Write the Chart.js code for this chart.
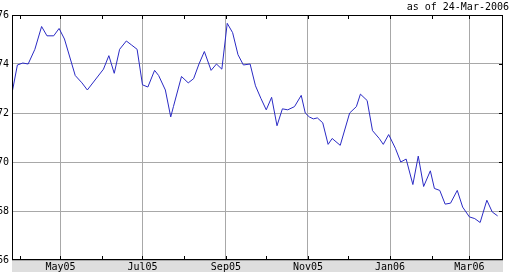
<!DOCTYPE html>
<html><head><meta charset="utf-8">
<script src="https://cdn.jsdelivr.net/npm/chart.js@4.4.0/dist/chart.umd.min.js"></script>
<style>html,body{margin:0;padding:0;background:#fff;}canvas{display:block;}</style>
</head><body>
<canvas id="c" width="509" height="272"></canvas>
<script>
// Day numbers counted from 1-Jan-2005 (day 1 = 1 Jan 2005)
const days = [84,88,92,96,101,106,110,115,119,123,131,136,140,
  152,156,160,164,169,173,177,181,185,190,193,198,202,
  204,210,215,219,223,227,232,236,240,244,248,252,256,261,265,269,
  273,277,281,285,289,294,299,302,305,308,311,315,319,322,328,
  335,340,343,348,352,357,360,364,369,373,377,382,386,
  390,395,398,402,406,410,415,419,424,428,432,437,441,445];
const prices = [72.81,73.96,74.04,74.0,74.6,75.53,75.15,75.15,75.45,75.02,73.53,73.23,72.94,
  73.79,74.34,73.62,74.6,74.94,74.77,74.6,73.15,73.06,73.74,73.53,72.94,71.84,
  72.26,73.49,73.23,73.4,74.0,74.51,73.74,74.0,73.79,75.66,75.28,74.38,73.96,74.0,73.11,72.6,
  72.13,72.64,71.48,72.17,72.13,72.26,72.72,72.0,71.84,71.76,71.8,71.6,70.72,70.96,70.68,
  72.0,72.26,72.77,72.51,71.28,70.96,70.72,71.12,70.56,70.0,70.12,69.08,70.24,
  69.0,69.64,68.92,68.84,68.28,68.32,68.84,68.16,67.76,67.69,67.53,68.44,67.96,67.8];
const majorTickDays = [120,181,243,304,365,424];
const majorTickLabels = ["May05","Jul05","Sep05","Nov05","Jan06","Mar06"];
const minorTickDays = [90,151,212,273,334,396];
const yMin = 66, yMax = 76, yStep = 2;
const xMin = 84, xMax = 449;
const asOfText = "as of 24-Mar-2006";

const FONT = {family: "'DejaVu Sans Mono', monospace", size: 10};

const framePlugin = {
  id: 'frame',
  beforeDraw(chart) {
    const {ctx, chartArea: a} = chart;
    ctx.save();
    ctx.fillStyle = '#dedede';
    ctx.fillRect(a.left, a.bottom, a.right - a.left, chart.height - a.bottom);
    ctx.restore();
  },
  afterDraw(chart) {
    const {ctx, chartArea: a, scales} = chart;
    ctx.save();
    ctx.strokeStyle = '#000';
    ctx.lineWidth = 1;
    ctx.strokeRect(a.left + 0.5, a.top + 0.5, a.right - a.left - 1, a.bottom - a.top - 1);
    ctx.beginPath();
    const allX = majorTickDays.concat(minorTickDays);
    allX.forEach(d => {
      const px = Math.round(scales.x.getPixelForValue(d)) + 0.5;
      ctx.moveTo(px, a.top); ctx.lineTo(px, a.top + 4);
      ctx.moveTo(px, a.bottom); ctx.lineTo(px, a.bottom - 4);
    });
    for (let v = yMin + yStep; v < yMax; v += yStep) {
      const py = Math.round(scales.y.getPixelForValue(v)) + 0.5;
      ctx.moveTo(a.right, py); ctx.lineTo(a.right - 4, py);
    }
    ctx.stroke();
    ctx.restore();
  }
};

new Chart(document.getElementById('c'), {
  type: 'line',
  data: {
    datasets: [{
      data: days.map((d, i) => ({x: d, y: prices[i]})),
      borderColor: '#2a2ac4',
      borderWidth: 1,
      pointRadius: 0,
      tension: 0,
      fill: false
    }]
  },
  options: {
    responsive: false,
    animation: false,
    devicePixelRatio: 1,
    layout: {padding: 0},
    plugins: {
      legend: {display: false},
      tooltip: {enabled: false},
      title: {
        display: true,
        text: asOfText,
        align: 'end',
        color: '#000',
        font: {family: FONT.family, size: 10, weight: 'normal', lineHeight: 1.2},
        padding: {top: 1, bottom: 2}
      }
    },
    scales: {
      x: {
        type: 'linear',
        min: xMin, max: xMax,
        afterBuildTicks: s => { s.ticks = majorTickDays.map(v => ({value: v})); },
        afterFit: s => { s.height = 12; },
        ticks: {
          autoSkip: false, maxRotation: 0, padding: 1, color: '#000', font: FONT,
          callback: (v, i) => majorTickLabels[i]
        },
        grid: {color: '#a8a8a8', drawTicks: false},
        border: {display: false}
      },
      y: {
        min: yMin, max: yMax,
        afterFit: s => { s.width = 12; },
        ticks: {stepSize: yStep, padding: 3, color: '#000', font: FONT},
        grid: {color: '#a8a8a8', drawTicks: false},
        border: {display: false}
      },
      y2: {
        position: 'right',
        min: yMin, max: yMax,
        afterFit: s => { s.width = 6; },
        ticks: {display: false},
        grid: {display: false, drawTicks: false},
        border: {display: false}
      }
    }
  },
  plugins: [framePlugin]
});
</script>
</body></html>
